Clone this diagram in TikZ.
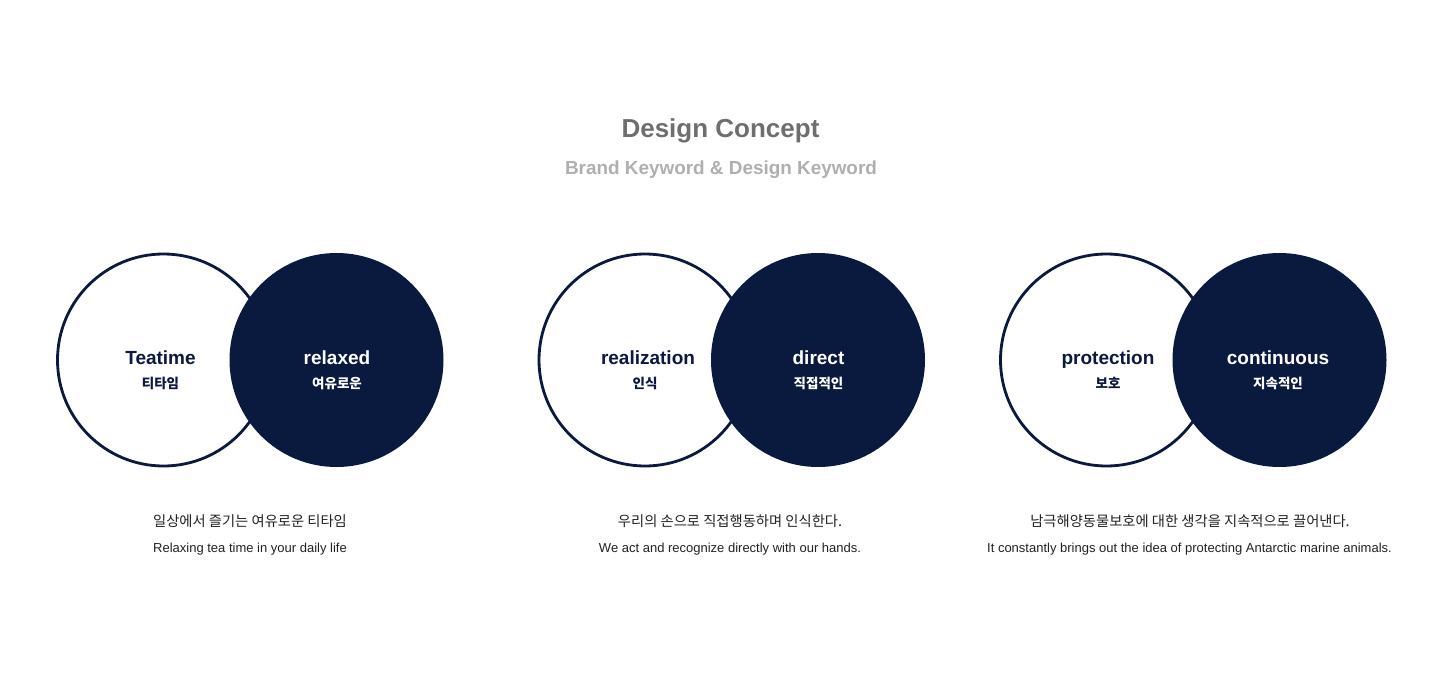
\documentclass[tikz,border=0pt]{standalone}
\usepackage{fontspec}
\setmainfont{Liberation Sans}
\newfontfamily\kr{Noto Sans CJK KR}
\definecolor{navy}{HTML}{0A193E}
\definecolor{titlegray}{HTML}{6E6E6E}
\definecolor{subgray}{HTML}{AFAFAF}
\definecolor{bodytext}{HTML}{222222}
\begin{document}
\begin{tikzpicture}[x=1pt,y=-1pt,
  ringc/.style={circle,draw=navy,line width=2.8pt,fill=white,minimum size=212pt,inner sep=0pt},
  fillc/.style={circle,fill=navy,minimum size=214pt,inner sep=0pt},
  keyd/.style={font=\fontsize{19}{22}\selectfont\bfseries,text=navy,anchor=base},
  keyl/.style={font=\fontsize{19}{22}\selectfont\bfseries,text=white,anchor=base},
  krd/.style={font=\kr\fontsize{13.5}{16}\selectfont\bfseries,text=navy,anchor=base},
  krl/.style={font=\kr\fontsize{13.5}{16}\selectfont\bfseries,text=white,anchor=base},
  desck/.style={font=\kr\fontsize{14.3}{16}\selectfont,text=bodytext,anchor=base},
  desce/.style={font=\fontsize{13}{15}\selectfont,text=bodytext,anchor=base}]
\fill[white] (0,0) rectangle (1440,687);
\useasboundingbox (0,0) rectangle (1440,687);
\node[font=\fontsize{26}{29}\selectfont\bfseries,text=titlegray,anchor=base] (title) at (720.5,137.5) {Design Concept};
\node[font=\fontsize{18.9}{22}\selectfont\bfseries,text=subgray,anchor=base] (sub) at (721,175) {Brand Keyword \& Design Keyword};
% group 1
\node[ringc] (c1a) at (163.5,360) {};
\node[fillc] (c1b) at (336.5,360) {};
\node[keyd] (k1a) at (160.5,364) {Teatime};
\node[krd] (h1a) at (160.5,388) {티타임};
\node[keyl] (k1b) at (337,364) {relaxed};
\node[krl] (h1b) at (337,388) {여유로운};
\node[desck] (d1k) at (250,526) {일상에서 즐기는 여유로운 티타임};
\node[desce] (d1e) at (250,552) {Relaxing tea time in your daily life};
% group 2
\node[ringc] (c2a) at (645,360) {};
\node[fillc] (c2b) at (818,360) {};
\node[keyd] (k2a) at (648,364) {realization};
\node[krd] (h2a) at (645,388) {인식};
\node[keyl] (k2b) at (818.5,364) {direct};
\node[krl] (h2b) at (818.5,388) {직접적인};
\node[desck] (d2k) at (730,526) {우리의 손으로 직접행동하며 인식한다.};
\node[desce] (d2e) at (730,552) {We act and recognize directly with our hands.};
% group 3
\node[ringc] (c3a) at (1106.5,360) {};
\node[fillc] (c3b) at (1279.5,360) {};
\node[keyd] (k3a) at (1108,364) {protection};
\node[krd] (h3a) at (1108,388) {보호};
\node[keyl] (k3b) at (1278,364) {continuous};
\node[krl] (h3b) at (1278,388) {지속적인};
\node[desck] (d3k) at (1190,526) {남극해양동물보호에 대한 생각을 지속적으로 끌어낸다.};
\node[desce] (d3e) at (1189.5,552) {It constantly brings out the idea of protecting Antarctic marine animals.};
\end{tikzpicture}
\end{document}
